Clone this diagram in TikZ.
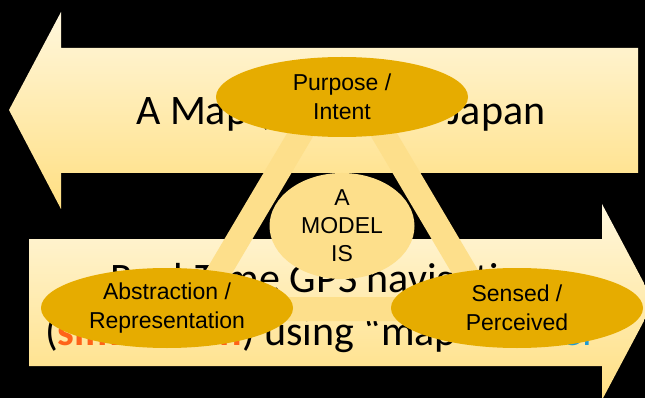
\documentclass[tikz,border=0pt]{standalone}
\usepackage{fontspec}
\setmainfont{Liberation Sans}
\newfontfamily\carlito{Carlito}
\usetikzlibrary{shapes.geometric}
\definecolor{gold}{HTML}{E6AC00}
\definecolor{pale}{HTML}{FDDF8B}
\definecolor{creamtop}{HTML}{FFF7DD}
\definecolor{creambot}{HTML}{FFDF82}
\definecolor{simorange}{HTML}{FF6319}
\definecolor{modelblue}{HTML}{1E9BD7}

\begin{document}
\begin{tikzpicture}[x=1pt,y=-1pt,
  bigarrow/.style={top color=creamtop,bottom color=creambot},
  arrowtext/.style={font=\carlito\fontsize{42}{50}\selectfont,inner sep=0,anchor=base west},
  band/.style={draw=pale,line width=24pt},
  keyell/.style={ellipse,fill=gold,minimum width=252pt,minimum height=80pt,inner sep=0,
    align=center,font=\fontsize{23}{29}\selectfont},
  hub/.style={ellipse,fill=pale,minimum width=145pt,minimum height=106pt,inner sep=0,
    align=center,font=\fontsize{23}{28}\selectfont}]
% black backdrop
\fill[black] (0,0) rectangle (645,398);
\useasboundingbox (0,0) rectangle (645,398);
\clip (0,0) rectangle (645,398);

% left-pointing block arrow
\shade[bigarrow] (9,110) -- (61,12) -- (61,48) -- (638,48) -- (638,173)
  -- (61,173) -- (61,209) -- cycle;
% right-pointing block arrow
\shade[bigarrow] (29,239) -- (602,239) -- (602,204) -- (654,302) -- (602,400)
  -- (602,366) -- (29,366) -- cycle;

% arrow captions
\node[arrowtext] (maptext) at (136,125) {A Map (Model) of Japan};
\node[arrowtext] (gpsa) at (110,292) {Real-Time GPS navigation};
\node[arrowtext] (gpsb) at (45,345)
  {(\textcolor{simorange}{\bfseries simulation}) using “map” \textcolor{modelblue}{model}};

% triangle linking the three aspects
\coordinate (vt) at (342,64);
\coordinate (vl) at (197,309);
\coordinate (vr) at (487,309);
\draw[band] (vt) -- (vl) (vt) -- (vr) (vl) -- (vr);

% aspects and hub
\node[hub] (model) at (342,226) {A\\MODEL\\IS};
\node[keyell] (purpose) at (342,97) {Purpose /\\Intent};
\node[keyell] (abstr) at (167,308) {Abstraction /\\Representation};
\node[keyell] (sensed) at (517,308) {Sensed /\\Perceived};
\end{tikzpicture}
\end{document}
